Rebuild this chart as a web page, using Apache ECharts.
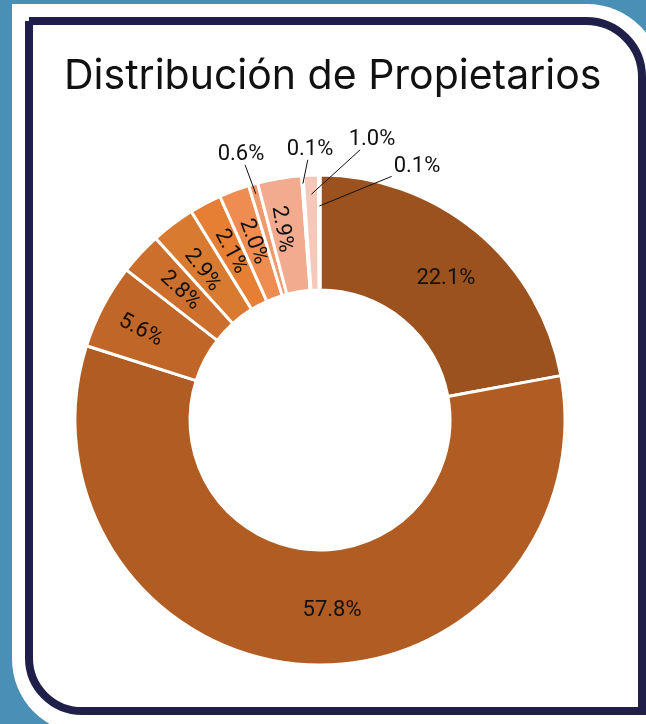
<!DOCTYPE html>
<html><head><meta charset="utf-8">
<script src="https://cdn.jsdelivr.net/npm/echarts@6/dist/echarts.min.js"></script>
<style>html,body{margin:0;padding:0;background:#4a8fb6;overflow:hidden}#c{width:646px;height:724px}</style>
</head><body><div id="c"></div>
<script>
const titleText = 'Distribución de Propietarios';
const categories = ['Categoría 1','Categoría 2','Categoría 3','Categoría 4','Categoría 5','Categoría 6','Categoría 7','Categoría 8','Categoría 9','Categoría 10','Categoría 11','Categoría 12'];
const values = [22.1, 57.8, 5.6, 2.8, 2.9, 2.1, 2.0, 0.6, 2.9, 0.1, 1.0, 0.1];
const colors = ['#9c521f','#b05c22','#c06628','#cc6f2d','#d97a31','#e67f34','#ee8c52','#f09a6c','#f2ab8e','#f5bba8','#f6c8ba','#f9d8cc'];
const outsideIdx = [7, 9, 10, 11];
const horizontalIdx = [0, 1];

const chart = echarts.init(document.getElementById('c'), null, {renderer: 'canvas'});

const pieCenter = [320, 420];
const pieRadius = [130, 245];
const outerLabelPos = {7: [241, 154], 9: [310, 149], 10: [372, 139], 11: [417, 166]};
const lineEndRadius = {7: 235, 9: 237, 10: 226, 11: 214};
const innerLabelShift = {0: [4, 5], 1: [24, 0], 2: [-10, 4], 4: [0, 4], 8: [-4, 6]};

const total = values.reduce((a, b) => a + b, 0);
const fmt = p => p.value.toFixed(1) + '%';

function midPoint(i, r) {
  let before = 0;
  for (let k = 0; k < i; k++) before += values[k];
  const theta = (before + values[i] / 2) / total * Math.PI * 2;
  return [pieCenter[0] + r * Math.sin(theta), pieCenter[1] - r * Math.cos(theta)];
}

function rectEdgePoint(cx, cy, w, h, tx, ty, gap) {
  const dx = tx - cx, dy = ty - cy;
  const sx = dx !== 0 ? (w / 2 + gap) / Math.abs(dx) : Infinity;
  const sy = dy !== 0 ? (h / 2 + gap) / Math.abs(dy) : Infinity;
  const s = Math.min(sx, sy);
  return [cx + dx * s, cy + dy * s];
}

const mainData = values.map((v, i) => ({
  name: categories[i],
  value: v,
  itemStyle: {color: colors[i]},
  label: outsideIdx.includes(i)
    ? {show: false}
    : {show: true, position: 'inside', rotate: horizontalIdx.includes(i) ? 0 : 'radial'},
  labelLine: {show: false}
}));

const overlayData = values.map((v, i) => {
  const outside = outsideIdx.includes(i);
  return {
    name: categories[i],
    value: v,
    label: outside ? {show: true, position: 'outside'} : {show: false},
    labelLine: {show: outside}
  };
});

const labelFont = {color: '#111111', fontFamily: 'Roboto', fontSize: 22, formatter: fmt};

chart.setOption({
  backgroundColor: '#4a8fb6',
  animation: false,
  graphic: [
    {type: 'rect', z: 0, shape: {x: 12, y: 4, width: 650, height: 730, r: [0, 75, 0, 75]}, style: {fill: '#ffffff'}},
    {type: 'rect', z: 1, shape: {x: 29, y: 21, width: 613, height: 690, r: [0, 56, 0, 53]}, style: {fill: 'none', stroke: '#1f1f4a', lineWidth: 8}}
  ],
  title: {
    text: titleText,
    left: 59,
    top: 51,
    textStyle: {fontFamily: 'Inter', fontSize: 41, fontWeight: 'normal', color: '#111111'}
  },
  series: [{
    type: 'pie',
    center: pieCenter,
    radius: pieRadius,
    startAngle: 90,
    clockwise: true,
    avoidLabelOverlap: false,
    z: 5,
    itemStyle: {borderColor: '#ffffff', borderWidth: 3},
    label: Object.assign({show: true}, labelFont),
    labelLayout: params => {
      const s = innerLabelShift[params.dataIndex];
      if (s) return {dx: s[0], dy: s[1]};
      return {};
    },
    data: mainData
  }, {
    type: 'pie',
    center: pieCenter,
    radius: pieRadius,
    startAngle: 90,
    clockwise: true,
    avoidLabelOverlap: false,
    silent: true,
    z: 10,
    itemStyle: {color: 'rgba(0,0,0,0)', borderWidth: 0},
    label: Object.assign({show: true}, labelFont),
    labelLine: {lineStyle: {color: '#111111', width: 1}, length: 20, length2: 0},
    labelLayout: params => {
      const i = params.dataIndex;
      const p = outerLabelPos[i];
      if (!p) return {};
      const end = midPoint(i, lineEndRadius[i]);
      const start = rectEdgePoint(p[0], p[1], params.labelRect.width, params.labelRect.height * 0.8, end[0], end[1], 2);
      return {x: p[0], y: p[1], align: 'center', verticalAlign: 'middle', labelLinePoints: [end, start]};
    },
    data: overlayData
  }]
});
</script></body></html>
